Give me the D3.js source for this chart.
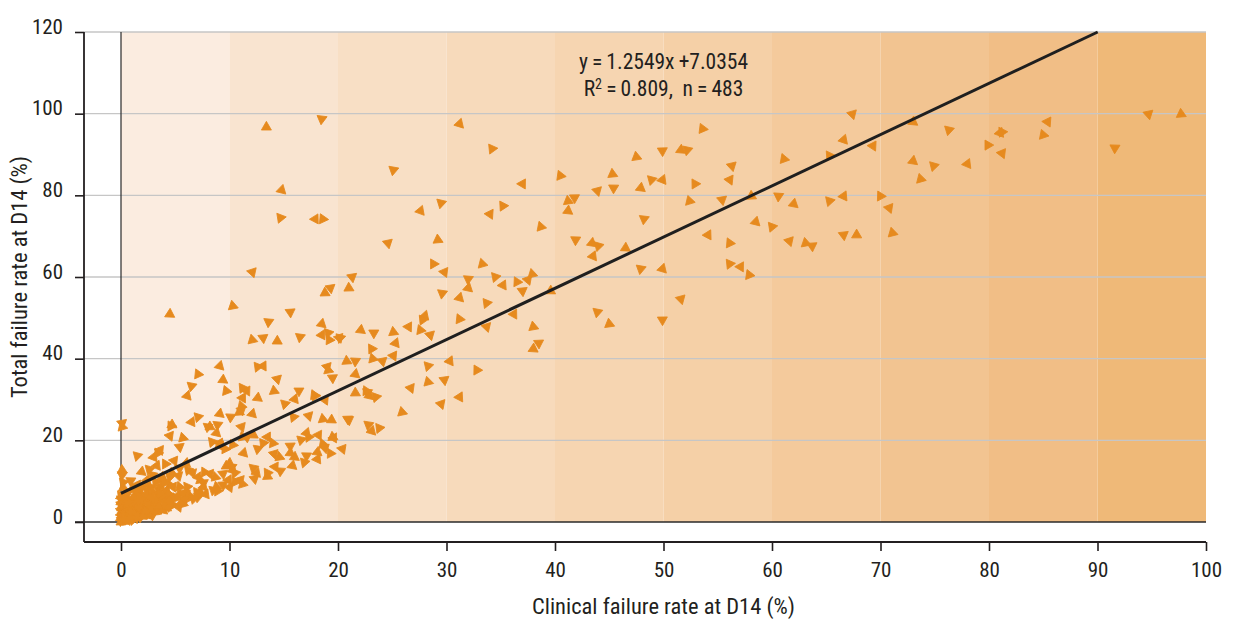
<!DOCTYPE html>
<html>
<head>
<meta charset="utf-8">
<script src="https://cdn.jsdelivr.net/npm/d3@7"></script>
<style>
  html, body { margin: 0; padding: 0; background: #ffffff; }
  svg { display: block; }
  text { font-family: "Roboto Condensed", "Roboto", sans-serif; fill: #231f20; }
</style>
</head>
<body>
<svg id="chart" width="1233" height="619"></svg>
<script>
// Tick values of both axes
const xTicks = [0, 10, 20, 30, 40, 50, 60, 70, 80, 90, 100];
const yTicks = [0, 20, 40, 60, 80, 100, 120];

// Shaded 10-point bands along the clinical failure axis
const bandStarts = [0, 10, 20, 30, 40, 50, 60, 70, 80, 90];
const bandColors = ["#fbece0", "#f9e4d0", "#f8dfc5", "#f7dabb", "#f6d5b1",
                    "#f5d0a7", "#f4ca9c", "#f2c491", "#f1be86", "#efb978"];

// Linear fit reported in the annotation
const fitSlope = 1.2549;
const fitIntercept = 7.0354;
const fitR2 = 0.809;
const fitN = 483;

// Sites: [clinical failure rate at D14 (%), total failure rate at D14 (%)]
const sites = [
  [13.4,96.7],[18.5,98.7],[14.8,81.3],[14.7,74.5],[17.9,74.2],[18.6,74.2],[12.1,61.2],[10.3,52.9],[15.6,51.4],[4.5,50.9],
  [25.1,86.2],[31.2,97.5],[34.2,91.4],[37.0,82.8],[40.5,84.8],[43.9,81.1],[41.2,78.6],[41.8,79.4],[41.2,76.2],[29.5,78.1],
  [27.6,76.2],[35.2,77.4],[34.0,75.4],[38.7,72.3],[24.6,68.3],[29.2,69.1],[41.9,69.1],[43.4,68.3],[44.0,67.6],[43.5,65.1],
  [28.8,63.2],[29.8,61.2],[33.3,63.2],[21.3,60.0],[21.0,57.3],[32.0,59.5],[32.0,57.3],[34.5,60.0],[35.2,58.0],[36.5,58.8],
  [37.5,59.3],[37.9,60.7],[37.0,56.6],[39.6,56.6],[29.6,56.0],[31.2,54.9],[33.7,53.6],[36.2,50.9],[31.2,49.7],[33.7,47.8],
  [38.0,47.8],[38.5,43.8],[38.0,42.4],[43.9,51.4],[28.0,50.5],[27.8,49.5],[26.5,47.8],[27.6,47.0],[28.5,45.8],[25.1,46.5],
  [23.3,46.3],[22.1,47.0],[20.2,45.1],[25.3,43.8],[23.1,42.4],[25.1,40.7],[23.2,40.0],[24.1,39.4],[20.8,39.4],[21.6,39.4],
  [21.6,36.2],[28.3,38.2],[30.3,39.4],[32.8,37.2],[26.7,32.8],[28.3,34.3],[29.8,34.8],[21.6,31.6],[22.7,31.8],[22.9,30.9],
  [23.5,30.6],[31.2,30.6],[22.6,32.1],[29.5,28.9],[25.9,26.9],[21.0,25.0],[19.4,25.0],[22.8,23.8],[23.1,22.3],[23.8,23.0],
  [19.6,20.6],
  [53.6,96.3],[67.4,99.9],[47.5,89.4],[49.9,90.9],[51.6,91.1],[52.2,91.1],[66.6,93.6],[65.3,89.7],[69.3,92.1],[61.1,88.9],
  [56.3,87.2],[45.3,85.2],[45.4,81.8],[47.9,81.8],[48.9,83.8],[49.9,83.8],[52.9,82.8],[56.1,83.8],[52.4,78.6],[55.4,78.9],
  [58.1,79.8],[60.6,79.8],[62.0,77.9],[65.3,78.6],[66.6,79.8],[70.0,79.8],[70.8,76.9],[71.1,70.8],[66.6,70.3],[67.8,70.3],
  [48.2,74.2],[58.5,73.5],[60.0,72.3],[54.1,70.3],[56.1,68.3],[61.6,68.8],[63.1,68.3],[63.7,67.6],[46.5,67.1],[47.9,62.0],
  [49.9,62.0],[56.1,63.2],[57.1,62.5],[57.9,60.5],[51.6,54.6],[45.0,48.5],[49.9,49.5],
  [73.0,98.0],[76.3,96.0],[81.0,95.3],[81.2,95.5],[85.4,98.0],[85.0,94.8],[94.7,99.9],[97.7,99.9],[91.6,91.6],[73.0,88.4],
  [74.9,87.2],[78.0,87.7],[79.9,92.3],[81.2,90.3],[73.7,84.0],
  [19.3,57.3],[18.8,56.1],
  [13.6,49.0],[18.5,48.5],[19.1,46.3],[18.5,45.8],[19.2,44.6],[20.1,45.1],[12.1,44.6],[13.1,45.1],[14.4,44.3],[16.5,45.3],
  [9.1,38.2],[12.6,38.0],[13.1,38.2],[7.1,36.2],[19.0,38.0],[19.1,37.2],[19.5,35.3],[9.4,34.8],[6.5,33.3],[6.1,30.9],
  [11.2,32.8],[11.6,32.1],[9.7,32.1],[14.4,35.0],[14.1,32.1],[16.4,32.1],[12.6,30.4],[15.1,28.9],[16.0,30.1],[17.9,30.9],
  [18.8,29.9],[11.1,28.4],[11.1,27.4],[10.9,26.9],[10.1,25.7],[9.1,26.5],[7.1,25.7],[6.5,24.5],[4.6,23.5],[4.5,21.1],
  [5.7,20.6],[5.4,18.4],[8.2,23.3],[8.9,23.8],[8.8,21.8],[8.4,19.6],[9.2,18.6],[9.6,17.9],[11.1,23.3],[11.2,20.8],
  [11.6,20.8],[12.2,21.3],[12.6,17.9],[11.3,16.9],[13.1,19.3],[13.5,20.8],[14.0,19.3],[14.1,16.7],[14.6,15.9],[15.6,18.6],
  [16.0,15.9],[16.6,20.1],[17.1,21.8],[17.3,20.8],[18.2,21.3],[18.6,19.1],[18.8,18.1],[19.5,20.8],[17.1,16.2],[18.1,17.1],
  [1.5,16.2],[3.0,15.9],[3.4,16.9],[3.6,17.6],[0.1,23.3],[0.1,24.2],[0.1,12.7],[0.1,11.5],[6.0,14.4],[6.2,12.7],
  [7.1,11.0],[7.7,12.2],[8.2,11.8],[8.7,11.0],[9.4,11.8],[9.7,13.7],[10.2,13.5],[10.3,12.7],[10.5,12.0],[9.9,10.3],
  [10.5,9.8],[11.0,10.3],[8.8,8.6],[9.4,9.1],[7.3,7.3],[7.1,6.1],[5.3,6.6],[6.1,8.6],[6.0,7.1],[4.5,9.1],
  [5.3,11.3],[4.7,12.0],[5.4,13.2],[3.8,11.0],[2.9,11.5],[2.4,10.3],[2.7,8.6],[1.5,9.1],[4.3,7.1],[3.9,5.4],
  [3.3,6.1],[2.9,4.7],[2.0,3.7],[1.5,2.9],[1.0,2.2],[4.8,4.2],[5.3,3.7],[5.7,4.4],[3.6,3.2],[4.2,3.4],
  [1.8,1.2],[2.4,1.7],[1.1,0.5],[0.8,1.2],[0.5,5.4],[0.4,3.7],[1.1,5.4],[1.3,4.7],
  [4.7,23.8],[8.0,23.3],[12.1,26.5],[15.9,25.7],[9.1,19.3],[10.3,18.9],[6.6,12.0],[7.3,10.3],[7.6,9.6],[10.0,14.4],
  [8.5,7.8],[7.6,8.6],[7.0,7.3],[6.1,6.6],[6.5,6.1],[3.6,3.4],[3.1,2.4],[2.9,1.7],[3.9,10.3],[4.5,11.0],
  [4.2,7.8],[4.5,6.6],[4.8,8.6],[5.4,8.6],[5.7,7.1],[1.8,7.1],[2.4,7.8],[1.5,6.6],[2.0,4.7],[2.7,5.4],
  [1.0,1.7],[0.6,0.5],[0.5,2.9],[0.8,4.2],
  [0,0.0],[0,0.3],[0,0.8],[0,1.2],[0,1.8],[0,2.4],[0,3.0],[0,3.7],[0,4.3],[0,4.9],[0,5.5],[0,6.1],[0,6.5],
  [11.2,30.4],[17.8,31.1],[17.3,26.0],[18.6,25.2],[20.9,25.2],[15.6,16.9],[12.2,13.2],[12.5,12.0],[13.5,12.0],[14.2,13.5],
  [1.2,0.8],[2.2,2.0],[3.3,2.8],[4.4,3.8],[5.6,4.9],[6.7,5.7],[7.8,6.8],[8.9,7.6],[10.0,8.5],[11.2,9.3],
  [12.3,10.6],[13.5,11.2],[14.7,12.5],[15.8,13.8],[16.9,14.6],[18.1,15.4],[19.3,16.8],[20.4,17.9],
  [0.3,1.5],[0.6,2.4],[0.9,3.1],[1.2,3.8],[1.6,4.2],[2.1,5.9],[2.5,6.4],[3.0,7.3],[3.5,8.1],[0.4,6.2],
  [0.7,7.4],[1.0,8.0],[1.9,8.4],[2.2,9.4],[3.2,9.8],[3.7,8.9],[4.0,9.6],[1.3,2.0],[1.7,2.6],[2.3,3.0],
  [2.6,3.9],[3.0,4.0],[3.4,4.8],[3.8,6.4],[4.6,5.5],[5.0,5.8],[5.9,5.5],[0.2,8.4],[0.9,10.1],[1.9,12.3],
  [2.6,12.9],[3.3,13.8],[4.1,14.2],[4.9,15.0],[0.5,0.2],[1.4,1.0],[2.0,1.4],[2.7,2.3],[3.9,2.9],[0.2,9.7],
  [0.3,0.6],[0.7,1.0],[1.5,1.9],[1.9,3.3],[2.5,4.4],[3.2,5.3],[0.6,4.6],[1.2,6.1],[1.7,5.3],[2.3,6.7],
  [0.9,2.6],[1.6,3.5],[2.2,2.7],[2.8,3.2],[3.5,3.9],[4.0,4.6],[4.4,5.2],[3.6,7.0],[2.8,6.0],[1.4,7.8]
];

const svg = d3.select("#chart");
const fontStack = '"Roboto Condensed", "Roboto", sans-serif';

const axisLeftX = 84;      // position of the vertical axis line
const axisBottomY = 542;   // position of the horizontal axis line

const x = d3.scaleLinear().domain([0, 100]).range([121, 1206]);
const y = d3.scaleLinear().domain([0, 120]).range([522, 32]);

// Background bands
svg.append("g")
  .selectAll("rect")
  .data(bandStarts)
  .join("rect")
  .attr("x", d => x(d))
  .attr("y", y(120))
  .attr("width", d => x(d + 10) - x(d))
  .attr("height", y(0) - y(120))
  .attr("fill", (d, i) => bandColors[i]);

// Horizontal gridlines
svg.append("g")
  .selectAll("line")
  .data(yTicks.filter(v => v > 0))
  .join("line")
  .attr("x1", axisLeftX)
  .attr("x2", x(100))
  .attr("y1", d => y(d))
  .attr("y2", d => y(d))
  .attr("stroke", "#c6c6c6")
  .attr("stroke-width", 1.4);

// Zero lines
svg.append("line")
  .attr("x1", x(0)).attr("x2", x(0))
  .attr("y1", y(120)).attr("y2", y(0))
  .attr("stroke", "#2a2a2a").attr("stroke-width", 1.2);
svg.append("line")
  .attr("x1", axisLeftX - 9).attr("x2", x(100))
  .attr("y1", y(0)).attr("y2", y(0))
  .attr("stroke", "#2a2a2a").attr("stroke-width", 1.6);

// Axes
const gx = svg.append("g")
  .attr("transform", `translate(0,${axisBottomY})`)
  .call(d3.axisBottom(x).tickValues(xTicks).tickSize(9).tickPadding(11));
const gy = svg.append("g")
  .attr("transform", `translate(${axisLeftX},0)`)
  .call(d3.axisLeft(y).tickValues(yTicks).tickSize(9).tickPadding(12));

[gx, gy].forEach(g => {
  g.select(".domain").remove();
  g.selectAll(".tick line").attr("stroke", "#231f20").attr("stroke-width", 1.6);
  g.selectAll(".tick text").attr("fill", "#231f20").style("font-size", "21px")
    .style("font-family", fontStack);
});
gy.selectAll(".tick text").attr("dy", "0.05em");

svg.append("line")
  .attr("x1", axisLeftX).attr("x2", x(100))
  .attr("y1", axisBottomY).attr("y2", axisBottomY)
  .attr("stroke", "#231f20").attr("stroke-width", 1.8);
svg.append("line")
  .attr("x1", axisLeftX).attr("x2", axisLeftX)
  .attr("y1", y(120)).attr("y2", axisBottomY)
  .attr("stroke", "#231f20").attr("stroke-width", 1.8);

// Observations
const marker = d3.symbol().type(d3.symbolTriangle).size(44);
svg.append("g")
  .selectAll("path")
  .data(sites)
  .join("path")
  .attr("d", marker)
  .attr("transform", (d, i) => `translate(${x(d[0])},${y(d[1])}) rotate(${(i * 67) % 360})`)
  .attr("fill", "#e68a1e")
  .attr("stroke", "#e68a1e")
  .attr("stroke-width", 0.8)
  .attr("stroke-linejoin", "round");

// Fitted line, clipped at the top of the plot
const xEnd = Math.min(100, (120 - fitIntercept) / fitSlope);
svg.append("line")
  .attr("x1", x(0)).attr("y1", y(fitIntercept))
  .attr("x2", x(xEnd)).attr("y2", y(fitSlope * xEnd + fitIntercept))
  .attr("stroke", "#1f1f1f")
  .attr("stroke-width", 3);

// Fit annotation
const ann = svg.append("g").attr("text-anchor", "middle").style("font-size", "21.5px");
ann.append("text")
  .attr("x", x(50)).attr("y", 69)
  .text(`y\u2009=\u2009${fitSlope}x\u2009+${fitIntercept}`);
const r2 = ann.append("text").attr("x", x(50)).attr("y", 96);
r2.append("tspan").text("R");
r2.append("tspan").attr("dy", -7).style("font-size", "14px").text("2");
r2.append("tspan").attr("dy", 7).text(`\u2009=\u2009${fitR2},\u2002n\u2009=\u2009${fitN}`);

// Axis titles
svg.append("text")
  .attr("x", x(50)).attr("y", 614)
  .attr("text-anchor", "middle")
  .style("font-size", "22.5px")
  .text("Clinical failure rate at D14 (%)");
svg.append("text")
  .attr("transform", `translate(27,${(y(120) + axisBottomY) / 2 - 10}) rotate(-90)`)
  .attr("text-anchor", "middle")
  .style("font-size", "22.5px")
  .text("Total failure rate at D14 (%)");
</script>
</body>
</html>
